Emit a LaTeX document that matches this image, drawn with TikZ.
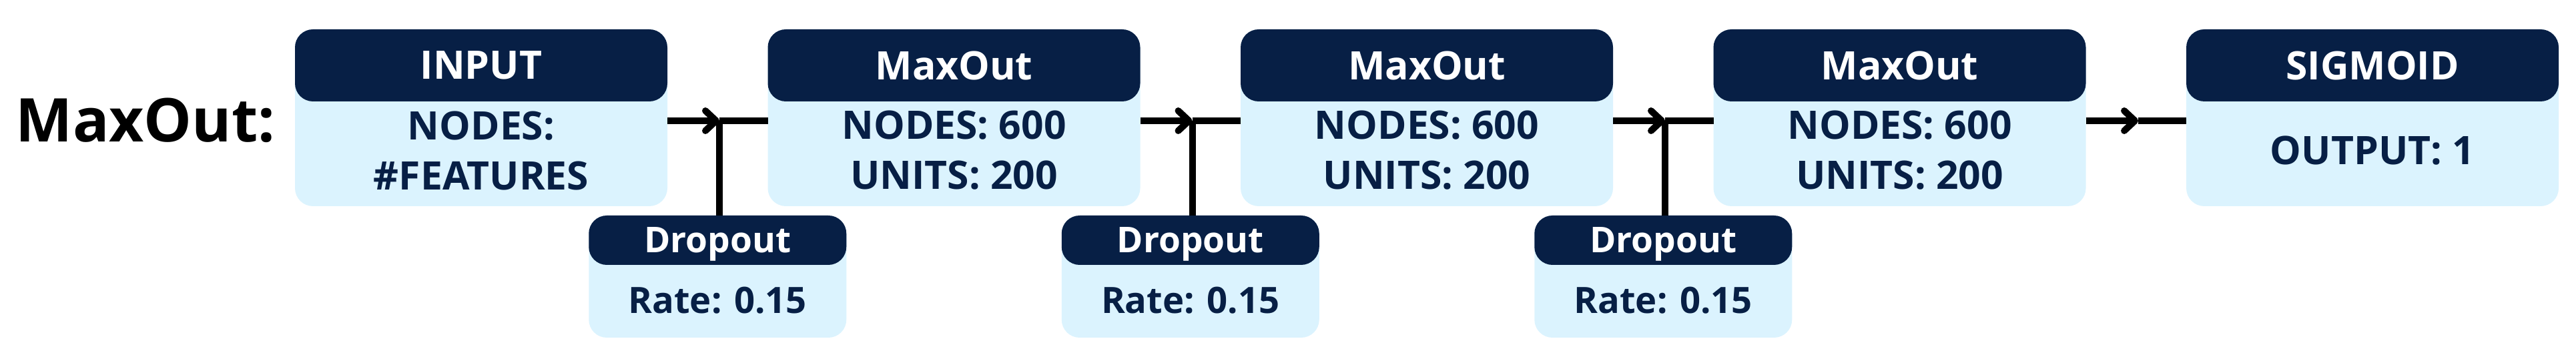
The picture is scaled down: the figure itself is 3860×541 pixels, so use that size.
\documentclass[tikz,border=0pt]{standalone}
\usepackage{fontspec}
\setmainfont{Open Sans}
\usetikzlibrary{arrows.meta}
\definecolor{navy}{HTML}{071F45}
\definecolor{pale}{HTML}{DBF3FE}
\begin{document}
\begin{tikzpicture}[x=0.25pt,y=-0.25pt,
  bodybox/.style={fill=pale, rounded corners=6.75pt, minimum width=139.5pt, minimum height=66.25pt, inner sep=0pt, outer sep=0pt},
  headbox/.style={fill=navy, text=white, rounded corners=6.75pt, minimum width=139.5pt, minimum height=27pt, inner sep=0pt, outer sep=0pt, text depth=0pt, font=\fontsize{14.7}{18}\selectfont\bfseries},
  bodytext/.style={text=navy, align=center, inner sep=0pt, font=\fontsize{14.7}{18.75}\selectfont\bfseries},
  dropbody/.style={bodybox, minimum width=96.5pt, minimum height=45.75pt},
  drophead/.style={headbox, minimum width=96.5pt, minimum height=18.5pt, font=\fontsize{13.3}{16}\selectfont\bfseries},
  droptext/.style={bodytext, font=\fontsize{13.6}{16}\selectfont\bfseries},
  conn/.style={line width=2.5pt, black},
  tip/.style={-{Straight Barb[length=4pt,width=7.5pt,line cap=round,round]}},
  title/.style={inner sep=0pt, anchor=base west, font=\fontsize{22.6}{26}\selectfont\bfseries}]
\useasboundingbox (0,0) rectangle (3860,541);

\node[title] (ttl) at (23,213) {MaxOut:};

% main layer boxes
\node[bodybox] (in) at (721,176.5) {};
\node[headbox] (hin) at (721,98) {INPUT};
\node[bodytext] (tin) at (721,225.5) {NODES:\\\#FEATURES};

\node[bodybox] (mo1) at (1429.5,176.5) {};
\node[headbox] (hmo1) at (1429.5,98) {MaxOut};
\node[bodytext] (tmo1) at (1429.5,225.5) {NODES: 600\\UNITS: 200};

\node[bodybox] (mo2) at (2138,176.5) {};
\node[headbox] (hmo2) at (2138,98) {MaxOut};
\node[bodytext] (tmo2) at (2138,225.5) {NODES: 600\\UNITS: 200};

\node[bodybox] (mo3) at (2846.5,176.5) {};
\node[headbox] (hmo3) at (2846.5,98) {MaxOut};
\node[bodytext] (tmo3) at (2846.5,225.5) {NODES: 600\\UNITS: 200};

\node[bodybox] (sig) at (3555,176.5) {};
\node[headbox] (hsig) at (3555,98) {SIGMOID};
\node[bodytext] (tsig) at (3555,226) {OUTPUT: 1};

% dropout boxes
\node[dropbody] (d1) at (1075.25,414.5) {};
\node[drophead] (hd1) at (1075.25,360) {Dropout};
\node[droptext] (td1) at (1075.25,450) {Rate: 0.15};

\node[dropbody] (d2) at (1783.75,414.5) {};
\node[drophead] (hd2) at (1783.75,360) {Dropout};
\node[droptext] (td2) at (1783.75,450) {Rate: 0.15};

\node[dropbody] (d3) at (2492.25,414.5) {};
\node[drophead] (hd3) at (2492.25,360) {Dropout};
\node[droptext] (td3) at (2492.25,450) {Rate: 0.15};

% junctions
\coordinate (m1) at (1078,181);
\coordinate (m2) at (1786.5,181);
\coordinate (m3) at (2495,181);
\coordinate (m4) at (3204,181);

% connectors
\draw[conn] (hd1.north -| m1) -- ++(0,-142);
\draw[conn] (hd2.north -| m2) -- ++(0,-142);
\draw[conn] (hd3.north -| m3) -- ++(0,-142);

\draw[conn,tip] (in.east |- m1) -- (m1);
\draw[conn] (m1) -- (mo1.west |- m1);
\draw[conn,tip] (mo1.east |- m2) -- (m2);
\draw[conn] (m2) -- (mo2.west |- m2);
\draw[conn,tip] (mo2.east |- m3) -- (m3);
\draw[conn] (m3) -- (mo3.west |- m3);
\draw[conn,tip] (mo3.east |- m4) -- (m4);
\draw[conn] (m4) -- (sig.west |- m4);
\end{tikzpicture}
\end{document}
